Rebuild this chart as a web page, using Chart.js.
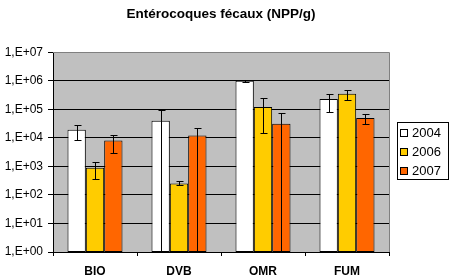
<!DOCTYPE html>
<html>
<head>
<meta charset="utf-8">
<script src="https://cdn.jsdelivr.net/npm/chart.js@4/dist/chart.umd.min.js"></script>
<style>
html,body{margin:0;padding:0;background:#fff;}
#wrap{width:450px;height:279px;}
</style>
</head>
<body>
<div id="wrap"><canvas id="c" width="450" height="279"></canvas></div>
<script>
const categories = ['BIO', 'DVB', 'OMR', 'FUM'];
const seriesNames = ['2004', '2006', '2007'];
const v2004 = [19000, 40000, 1000000, 230000];
const v2006 = [900, 250, 120000, 350000];
const v2007 = [8000, 12000, 31000, 50000];
const hi2004 = [29000, 93000, 1080000, 350000];
const lo2004 = [8700, 0, 930000, 80000];
const hi2006 = [1450, 300, 250000, 490000];
const lo2006 = [360, 215, 15000, 210000];
const hi2007 = [13000, 23000, 72000, 69000];
const lo2007 = [3000, 0, 0, 31000];
const yTicks = [1, 10, 100, 1000, 10000, 100000, 1000000, 10000000];
const colors = ['#FFFFFF', '#FFCC00', '#FF6600'];

const errHigh = [hi2004, hi2006, hi2007];
const errLow = [lo2004, lo2006, lo2007];
const FONT = "'Liberation Sans', Arial, sans-serif";

const plotBg = {
  id: 'plotBg',
  beforeDraw(chart) {
    const {ctx, chartArea: a} = chart;
    ctx.save();
    ctx.fillStyle = '#C0C0C0';
    ctx.fillRect(a.left, a.top, a.right - a.left, a.bottom - a.top);
    ctx.restore();
  },
  afterDatasetsDraw(chart) {
    const {ctx, chartArea: a} = chart;
    const y = chart.scales.y;
    ctx.save();
    ctx.strokeStyle = '#000';
    ctx.lineWidth = 1;
    chart.data.datasets.forEach((ds, di) => {
      const meta = chart.getDatasetMeta(di);
      meta.data.forEach((bar, i) => {
        const x = Math.round(bar.x) + 0.5;
        const hv = errHigh[di][i], lv = errLow[di][i];
        const yt = Math.round(y.getPixelForValue(hv)) + 0.5;
        const lowVisible = lv > 0;
        const yb = lowVisible ? Math.round(y.getPixelForValue(lv)) + 0.5 : a.bottom;
        ctx.beginPath();
        ctx.moveTo(x, yt); ctx.lineTo(x, yb);
        ctx.moveTo(x - 3, yt); ctx.lineTo(x + 4, yt);
        if (lowVisible) { ctx.moveTo(x - 3, yb); ctx.lineTo(x + 4, yb); }
        ctx.stroke();
      });
    });
    ctx.strokeStyle = '#808080';
    ctx.beginPath();
    ctx.moveTo(a.left, Math.round(a.top) + 0.5);
    ctx.lineTo(Math.round(a.right) + 0.5, Math.round(a.top) + 0.5);
    ctx.lineTo(Math.round(a.right) + 0.5, a.bottom);
    ctx.stroke();
    ctx.restore();
  },
  afterDraw(chart) {
    const {ctx} = chart;
    ctx.save();
    const bx = 397.5, by = 122.5, bw = 51, bh = 57;
    ctx.fillStyle = '#fff';
    ctx.fillRect(bx, by, bw, bh);
    ctx.strokeStyle = '#000';
    ctx.lineWidth = 1;
    ctx.strokeRect(bx, by, bw, bh);
    ctx.font = '13px ' + FONT;
    ctx.textBaseline = 'middle';
    ctx.textAlign = 'left';
    chart.data.datasets.forEach((ds, i) => {
      const cy = 133 + i * 19;
      ctx.fillStyle = ds.backgroundColor;
      ctx.fillRect(400.5, cy - 3.5, 7, 7);
      ctx.strokeStyle = '#000';
      ctx.strokeRect(400.5, cy - 3.5, 7, 7);
      ctx.fillStyle = '#000';
      ctx.fillText(ds.label, 412, cy + 0.5);
    });
    ctx.restore();
  }
};

const valueSets = [v2004, v2006, v2007];
new Chart(document.getElementById('c'), {
  type: 'bar',
  data: {
    labels: categories,
    datasets: seriesNames.map((n, i) => ({
      label: n,
      data: valueSets[i],
      backgroundColor: colors[i],
      borderColor: '#000',
      borderWidth: 1,
      borderSkipped: false,
      barPercentage: 1,
      categoryPercentage: 0.655
    }))
  },
  options: {
    responsive: false,
    animation: false,
    layout: {padding: {left: 0, right: 8, top: 0, bottom: 0}},
    plugins: {
      legend: {display: false},
      tooltip: {enabled: false},
      title: {
        display: true,
        text: 'Entérocoques fécaux (NPP/g)',
        color: '#000',
        font: {family: FONT, size: 13.5, weight: 'bold'},
        padding: {top: 6, bottom: 30}
      }
    },
    scales: {
      x: {
        offset: true,
        afterFit(scale) { scale.height = 27; },
        grid: {display: true, offset: true, drawOnChartArea: false, color: '#000', tickLength: 4},
        border: {color: '#000'},
        ticks: {color: '#000', font: {family: FONT, size: 12, weight: 'bold'}, padding: 8}
      },
      y: {
        type: 'logarithmic',
        min: 1,
        max: 10000000,
        afterBuildTicks(scale) { scale.ticks = yTicks.map(v => ({value: v})); },
        afterFit(scale) { scale.width = 53; },
        grid: {
          color: (c) => (c.tick && c.tick.value === 10000000) ? '#808080' : '#000',
          tickColor: '#000',
          tickLength: 5
        },
        border: {color: '#000'},
        ticks: {
          color: '#000',
          font: {family: FONT, size: 12},
          padding: 5,
          callback: (v) => {
            const e = Math.round(Math.log10(v));
            return '1,E+' + (e < 10 ? '0' : '') + e;
          }
        }
      },
      legendSpace: {
        type: 'linear',
        position: 'right',
        display: true,
        afterFit(scale) { scale.width = 53; },
        grid: {display: false, drawOnChartArea: false},
        border: {display: false},
        ticks: {display: false}
      }
    }
  },
  plugins: [plotBg]
});
</script>
</body>
</html>
